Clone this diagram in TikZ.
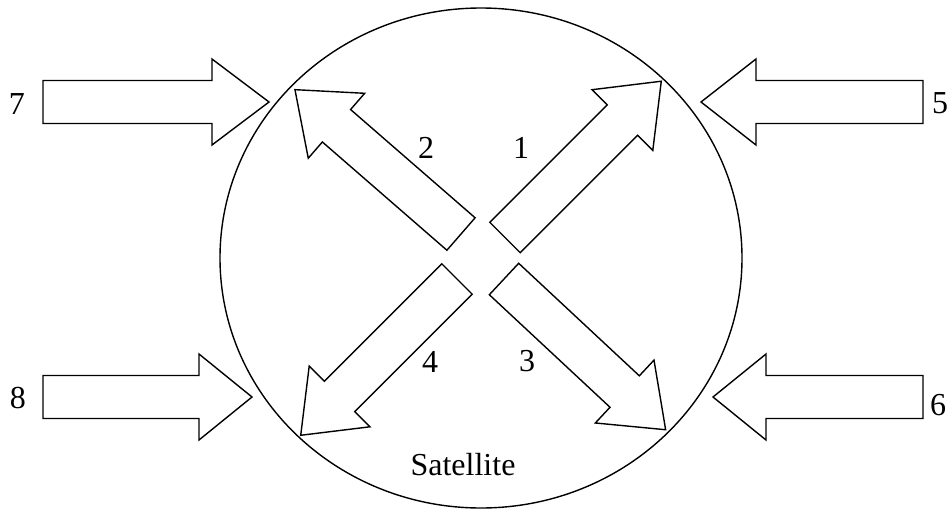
\documentclass[tikz,border=0pt]{standalone}
\usepackage{fontspec}
\setmainfont{Liberation Serif}
\tikzset{font={\fontsize{16pt}{18}\selectfont}}
\tikzset{bigarrow/.style={line width=0.7pt, line join=miter}}

\begin{document}
\begin{tikzpicture}[x=0.5pt,y=-0.5pt]
      \useasboundingbox (0,0) rectangle (948,509);
      %Satellite body
      \draw[line width=0.7pt] (481,258) ellipse [x radius=261, y radius=250];
      %Outer arrows: tail x/tail y/angle/shaft/head
      \foreach \x/\y/\a/\s/\h in {43/102/0/169/57, 43/397/0/156/53, 923/102/180/167/55, 923/397/180/157/53}
	\draw[bigarrow,shift={(\x,\y)},rotate=\a] (0,-21.5) -- (\s,-21.5) -- (\s,-43) -- (\s+\h,0) -- (\s,43) -- (\s,21.5) -- (0,21.5) -- cycle;
      %Inner arrows
      \foreach \x/\y/\a/\s/\h in {505/237.5/45/166/55, 461/234/139/165/55, 504/279/-43/165/56, 457/279/225/166/55}
	\draw[bigarrow,shift={(\x,\y)},rotate=\a] (0,-21.5) -- (\s,-21.5) -- (\s,-43) -- (\s+\h,0) -- (\s,43) -- (\s,21.5) -- (0,21.5) -- cycle;
      %labels
      \node (one) at (521,148) {1};
      \node (two) at (426,148) {2};
      \node (three) at (527,361) {3};
      \node (four) at (430,362) {4};
      \node (five) at (940,103) {5};
      \node (six) at (938,405) {6};
      \node (seven) at (17,104) {7};
      \node (eight) at (18,398) {8};
      \node (sat) at (463,465) {Satellite};
    \end{tikzpicture}
\end{document}
